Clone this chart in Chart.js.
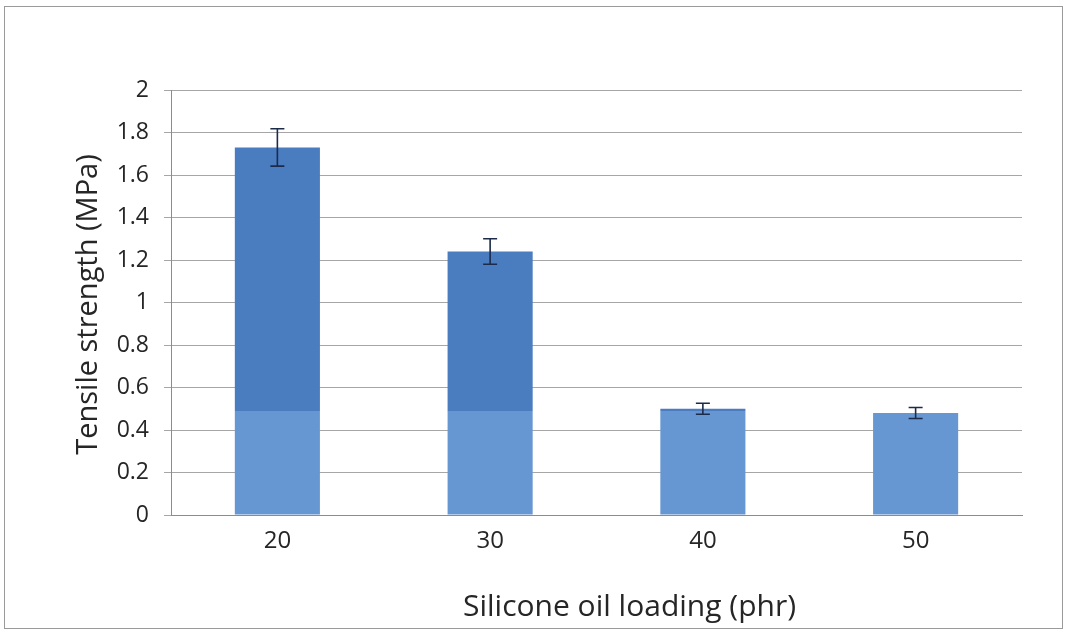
<!DOCTYPE html>
<html>
<head>
<meta charset="utf-8">
<script src="https://cdn.jsdelivr.net/npm/chart.js@4.4.1/dist/chart.umd.min.js"></script>
<style>
  html, body { margin: 0; padding: 0; background: #fff; }
  #frame {
    position: absolute; left: 4px; top: 6px;
    width: 1057px; height: 621px;
    border: 1px solid #9a9a9a;
  }
  canvas { display: block; }
</style>
</head>
<body>
<div id="frame"><canvas id="tensileChart" width="1057" height="621"></canvas></div>
<script>
const loadings = ["20", "30", "40", "50"];
const tensile = [1.73, 1.24, 0.50, 0.48];
const tensileErr = [0.088, 0.06, 0.026, 0.026];
const yTicks = [0, 0.2, 0.4, 0.6, 0.8, 1, 1.2, 1.4, 1.6, 1.8, 2];
const xTitle = "Silicone oil loading (phr)";
const yTitle = "Tensile strength (MPa)";

// lower part of the bars is printed lighter than the upper part
const toneSplit = 0.49;
const darkBlue = "#4a7cc0";
const lightBlue = "#6797d3";
const textColor = "#262626";

const ctx = document.getElementById("tensileChart").getContext("2d");

// error bars drawn on top of each bar
const errorBars = {
  id: "errorBars",
  afterDatasetsDraw(chart) {
    const y = chart.scales.y;
    const meta = chart.getDatasetMeta(0);
    const c = chart.ctx;
    c.save();
    c.strokeStyle = "#1c2b4a";
    c.lineWidth = 1.6;
    meta.data.forEach((bar, i) => {
      const top = y.getPixelForValue(tensile[i] + tensileErr[i]);
      const bot = y.getPixelForValue(tensile[i] - tensileErr[i]);
      const x = bar.x;
      c.beginPath();
      c.moveTo(x, top); c.lineTo(x, bot);
      c.moveTo(x - 7, top); c.lineTo(x + 7, top);
      c.moveTo(x - 7, bot); c.lineTo(x + 7, bot);
      c.stroke();
    });
    c.restore();
  }
};

// axis titles, placed relative to the plot area
const axisTitles = {
  id: "axisTitles",
  afterDraw(chart) {
    const a = chart.chartArea;
    const c = chart.ctx;
    c.save();
    c.fillStyle = textColor;
    c.textAlign = "center";
    c.textBaseline = "middle";
    c.font = "30px 'Open Sans'";
    c.fillText(xTitle, (a.left + a.right) / 2 + 33, a.bottom + 92);
    c.font = "29px 'Open Sans'";
    c.translate(a.left - 82, (a.top + a.bottom) / 2 + 2);
    c.rotate(-Math.PI / 2);
    c.fillText(yTitle, 0, 0);
    c.restore();
  }
};

function barFill(context) {
  const chart = context.chart;
  const area = chart.chartArea;
  if (!area) return lightBlue;
  const yScale = chart.scales.y;
  const splitY = yScale.getPixelForValue(toneSplit);
  const g = chart.ctx.createLinearGradient(0, area.bottom, 0, area.top);
  const f = (area.bottom - splitY) / (area.bottom - area.top);
  g.addColorStop(0, lightBlue);
  g.addColorStop(f, lightBlue);
  g.addColorStop(f, darkBlue);
  g.addColorStop(1, darkBlue);
  return g;
}

new Chart(ctx, {
  type: "bar",
  data: {
    labels: loadings,
    datasets: [{
      data: tensile,
      backgroundColor: barFill,
      borderWidth: 0,
      barPercentage: 0.4,
      categoryPercentage: 1.0
    }]
  },
  options: {
    responsive: false,
    animation: false,
    layout: { padding: { left: 0, top: 83, right: 40, bottom: 0 } },
    plugins: {
      legend: { display: false },
      tooltip: { enabled: false }
    },
    scales: {
      x: {
        grid: { display: false, drawTicks: false },
        border: { color: "#8c8c8c", width: 1 },
        ticks: {
          color: textColor,
          font: { family: "Open Sans", size: 24 },
          padding: 12
        },
        afterFit(scale) { scale.height = 113; }
      },
      y: {
        min: 0,
        max: 2,
        afterBuildTicks(scale) {
          scale.ticks = yTicks.map(v => ({ value: v }));
        },
        grid: { color: "#a6a6a6", lineWidth: 1, tickLength: 7 },
        border: { color: "#8c8c8c", width: 1 },
        ticks: {
          color: textColor,
          font: { family: "Open Sans", size: 23 },
          padding: 15,
          callback: v => String(v)
        },
        afterFit(scale) { scale.width = 166; }
      }
    }
  },
  plugins: [errorBars, axisTitles]
});
</script>
</body>
</html>
